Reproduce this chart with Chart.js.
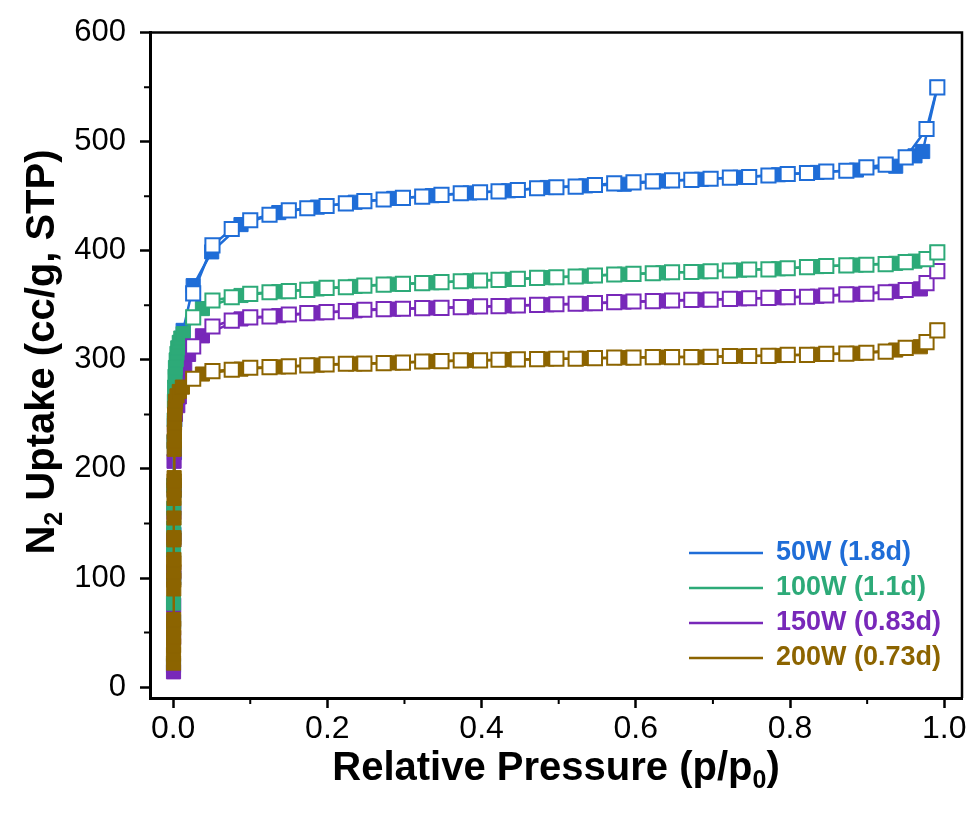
<!DOCTYPE html>
<html>
<head>
<meta charset="utf-8">
<script src="https://cdn.jsdelivr.net/npm/chart.js@4.4.1/dist/chart.umd.min.js"></script>
<style>
  html, body { margin: 0; padding: 0; background: #fff; }
  canvas { display: block; }
</style>
</head>
<body>
<canvas id="chart" width="974" height="813"></canvas>
<script>
// Data

const seriesNames  = ['50W (1.8d)', '100W (1.1d)', '150W (0.83d)', '200W (0.73d)'];
const seriesColors = ['#1f6dd7', '#2daa78', '#7828b9', '#8c6400'];

// axis ticks
const xTicks = [0, 0.2, 0.4, 0.6, 0.8, 1.0];
const xMinor = [0.1, 0.3, 0.5, 0.7, 0.9];
const yTicks = [0, 100, 200, 300, 400, 500, 600];
const yMinor = [50, 150, 250, 350, 450, 550];

// desorption branch (open squares) - shared relative pressures
const desP = [0.026, 0.051, 0.076, 0.1, 0.125, 0.15, 0.174, 0.199, 0.224, 0.248,
              0.273, 0.298, 0.323, 0.348, 0.373, 0.398, 0.422, 0.447, 0.472, 0.497,
              0.522, 0.547, 0.572, 0.597, 0.622, 0.647, 0.672, 0.697, 0.722, 0.747,
              0.772, 0.797, 0.822, 0.847, 0.873, 0.899, 0.924, 0.95, 0.977, 0.991];
const des50  = [361, 405, 420, 428, 433, 437, 439, 441, 443.5, 445.5,
                447, 448.5, 449.6, 451.2, 452.7, 453.6, 454.5, 455.7, 457.3, 458.2,
                458.8, 460.3, 461.8, 462.7, 463.6, 464.5, 465, 466, 467, 467.6,
                469, 470.4, 471.3, 472.5, 473.4, 476.5, 479, 485.6, 511.6, 549.8];
const des100 = [339, 354.4, 357.4, 360.5, 362, 363, 364.2, 366, 366.6, 368,
                369, 369.7, 370.3, 371.2, 372.1, 372.7, 373.3, 374.2, 375.1, 375.7,
                376.4, 377.3, 378.2, 378.8, 379.4, 380.3, 380.5, 381.2, 381.9, 382.8,
                383, 384, 385, 386, 386.6, 387.2, 387.8, 389.6, 392.4, 398.5];
const des150 = [312.3, 330.6, 336, 339, 339.7, 341.6, 342.8, 343.7, 344.6, 345.9,
                346.5, 346.8, 347.4, 347.7, 348.3, 349, 349.2, 349.8, 350.4, 351,
                351.4, 352, 352.9, 353.5, 353.8, 354.4, 355, 355.2, 355.9, 356.5,
                356.8, 357.5, 357.8, 359, 360, 360.6, 362, 364, 370.3, 381.3];
const des200 = [282.7, 289.7, 290.9, 292.8, 293.3, 294, 294.9, 295.8, 296.4, 296.6,
                297, 297.5, 298.5, 298.8, 299.5, 299.5, 300.1, 300.4, 300.6, 301,
                301, 301.6, 302, 302, 302.5, 302.5, 302.5, 302.7, 303.5, 303.5,
                303.7, 304.5, 304.6, 305.5, 305.7, 306.5, 307.5, 311, 316.2, 327];

// adsorption branch (filled squares)
const ads50P = [0.0005, 0.0006, 0.0008, 0.001, 0.0013, 0.0017, 0.0022, 0.003, 0.004, 0.006,
                0.009, 0.013, 0.026, 0.05, 0.088, 0.137, 0.187, 0.236, 0.286, 0.336,
                0.385, 0.435, 0.485, 0.535, 0.585, 0.635, 0.685, 0.735, 0.785, 0.835,
                0.886, 0.937, 0.962, 0.972, 0.991];
const ads50  = [20, 60, 100, 140, 180, 215, 245, 270, 290, 305,
                316, 327, 368, 399, 424, 435, 440, 444.5, 448, 450.5,
                453, 455, 458, 459.5, 461, 464, 465.5, 467.3, 469.7, 471.8,
                474, 477.5, 487, 491, 549.8];

const ads100P = [0.0005, 0.0006, 0.0007, 0.0008, 0.0009, 0.0012, 0.0014, 0.0017, 0.002, 0.0025,
                 0.003, 0.004, 0.005, 0.006, 0.008, 0.01, 0.013, 0.038, 0.088, 0.137,
                 0.187, 0.236, 0.286, 0.336, 0.385, 0.435, 0.485, 0.535, 0.585, 0.635,
                 0.685, 0.735, 0.785, 0.835, 0.886, 0.937, 0.962, 0.991];
const ads100  = [77, 126, 146, 164, 185, 225, 245, 262, 275, 285,
                 293, 300, 306, 311, 316, 320, 324, 347, 359, 362.5,
                 365, 367.3, 369.3, 370.7, 372.4, 373.7, 375.4, 376.8, 378.5, 379.8,
                 380.8, 382.3, 383.5, 385.5, 386.9, 388.5, 390.5, 398.5];

const ads150P = [0.0005, 0.0006, 0.0007, 0.0008, 0.0009, 0.001, 0.0011, 0.0012, 0.0014, 0.0017,
                 0.003, 0.006, 0.008, 0.01, 0.012, 0.015, 0.02, 0.038, 0.088, 0.137,
                 0.187, 0.236, 0.286, 0.336, 0.385, 0.435, 0.485, 0.535, 0.585, 0.635,
                 0.685, 0.735, 0.785, 0.835, 0.886, 0.937, 0.969, 0.991];
const ads150  = [14, 45, 75, 105, 135, 160, 185, 207, 225, 240,
                 250, 258, 266, 276, 286, 296, 305, 322, 337.5, 340.5,
                 343, 345, 346.5, 347.5, 348.5, 349.5, 350.5, 351.5, 353, 354,
                 355, 356, 357, 358.3, 360.2, 362.8, 365, 381.3];

const ads200P = [0.0005, 0.0005, 0.0006, 0.0006, 0.0007, 0.0007, 0.0008, 0.0008, 0.0009, 0.0009,
                 0.001, 0.001, 0.0011, 0.0011, 0.0012, 0.0012, 0.0013, 0.0013, 0.0014, 0.0015,
                 0.0016, 0.0018, 0.002, 0.0025, 0.003, 0.005, 0.008, 0.012, 0.038, 0.088,
                 0.137, 0.187, 0.236, 0.286, 0.336, 0.385, 0.435, 0.485, 0.535, 0.585,
                 0.635, 0.685, 0.735, 0.785, 0.835, 0.886, 0.937, 0.969, 0.991];
const ads200  = [22, 30, 38, 46, 54, 62, 90, 98, 106, 114,
                 117, 135, 137, 155, 173, 181, 189, 192, 218, 226,
                 234, 242, 250, 256, 262, 267, 271, 275, 287, 291.5,
                 293.5, 295.2, 296.3, 297.2, 298.6, 299.4, 300.2, 300.8, 301.3, 302,
                 302.5, 302.6, 303.5, 304, 305, 306, 309, 312, 327];

const desSets = [des50, des100, des150, des200];
const adsSets = [[ads50P, ads50], [ads100P, ads100], [ads150P, ads150], [ads200P, ads200]];
// draw order of filled branches: lower = on top (brown over green over purple over blue)
const adsOrder = [7, 5, 6, 4];

const FONT = '"Liberation Sans", Arial, Helvetica, sans-serif';

const toPoints = (xs, ys) => xs.map((x, i) => ({ x, y: ys[i] }));

// Datasets

const datasets = [];
seriesColors.forEach((c, i) => {
  datasets.push({
    label: seriesNames[i] + ' ads',
    data: toPoints(adsSets[i][0], adsSets[i][1]),
    borderColor: c,
    borderWidth: 2.5,
    pointStyle: 'rect',
    pointRadius: 10,
    pointBorderWidth: 1,
    pointBorderColor: c,
    pointBackgroundColor: c,
    order: adsOrder[i]
  });
  datasets.push({
    label: seriesNames[i],
    data: toPoints(desP, desSets[i]),
    borderColor: c,
    borderWidth: 2.5,
    pointStyle: 'rect',
    pointRadius: 10,
    pointBorderWidth: 2,
    pointBorderColor: c,
    pointBackgroundColor: '#fff',
    order: i
  });
});

// Plugins

// top + right frame and minor ticks
const framePlugin = {
  id: 'frame',
  afterDraw(chart) {
    const { ctx, chartArea: a, scales } = chart;
    ctx.save();
    ctx.strokeStyle = '#000';
    ctx.lineWidth = 2.5;
    ctx.beginPath();
    ctx.moveTo(a.left, a.top);
    ctx.lineTo(a.right, a.top);
    ctx.lineTo(a.right, a.bottom);
    ctx.stroke();

    ctx.lineWidth = 2;
    ctx.beginPath();
    xMinor.forEach(v => {
      const px = scales.x.getPixelForValue(v);
      ctx.moveTo(px, a.bottom);
      ctx.lineTo(px, a.bottom + 6);
    });
    yMinor.forEach(v => {
      const py = scales.y.getPixelForValue(v);
      ctx.moveTo(a.left, py);
      ctx.lineTo(a.left - 6, py);
    });
    ctx.stroke();
    ctx.restore();
  }
};

// text with subscripts, centred at (0,0) of current transform
function drawRich(ctx, parts, size) {
  const subSize = Math.round(size * 0.62);
  const fonts = parts.map(p => `bold ${p.sub ? subSize : size}px ${FONT}`);
  let total = 0;
  const widths = parts.map((p, i) => { ctx.font = fonts[i]; const w = ctx.measureText(p.t).width; total += w; return w; });
  let x = -total / 2;
  ctx.textBaseline = 'alphabetic';
  ctx.textAlign = 'left';
  parts.forEach((p, i) => {
    ctx.font = fonts[i];
    ctx.fillText(p.t, x, size * 0.36 + (p.sub ? size * 0.2 : 0));
    x += widths[i];
  });
}

const titlePlugin = {
  id: 'titles',
  afterDraw(chart) {
    const { ctx, chartArea: a } = chart;
    ctx.save();
    ctx.fillStyle = '#000';
    ctx.translate((a.left + a.right) / 2, 766);
    drawRich(ctx, [{ t: 'Relative Pressure (p/p' }, { t: '0', sub: true }, { t: ')' }], 40);
    ctx.restore();

    ctx.save();
    ctx.fillStyle = '#000';
    ctx.translate(40, 352);
    ctx.rotate(-Math.PI / 2);
    drawRich(ctx, [{ t: 'N' }, { t: '2', sub: true }, { t: ' Uptake (cc/g, STP)' }], 40);
    ctx.restore();
  }
};

const legendPlugin = {
  id: 'insideLegend',
  afterDraw(chart) {
    const { ctx, chartArea: a } = chart;
    ctx.save();
    ctx.font = `bold 27px ${FONT}`;
    ctx.textBaseline = 'middle';
    ctx.textAlign = 'left';
    seriesNames.forEach((name, i) => {
      const y = a.bottom - 145 + i * 35;
      ctx.strokeStyle = seriesColors[i];
      ctx.lineWidth = 2.5;
      ctx.beginPath();
      ctx.moveTo(a.right - 273, y);
      ctx.lineTo(a.right - 199, y);
      ctx.stroke();
      ctx.fillStyle = seriesColors[i];
      ctx.fillText(name, a.right - 186, y);
    });
    ctx.restore();
  }
};

// Chart

new Chart(document.getElementById('chart'), {
  type: 'line',
  data: { datasets },
  options: {
    responsive: false,
    animation: false,
    devicePixelRatio: 1,
    layout: { padding: { top: 32, right: 8, left: 0, bottom: 0 } },
    elements: { line: { tension: 0 } },
    plugins: { legend: { display: false }, tooltip: { enabled: false } },
    scales: {
      x: {
        type: 'linear',
        min: -0.03,
        max: 1.023,
        afterBuildTicks: s => { s.ticks = xTicks.map(v => ({ value: v })); },
        afterFit: s => { s.height = 115; },
        ticks: {
          color: '#000',
          font: { family: FONT, size: 32 },
          padding: 2,
          maxRotation: 0,
          autoSkip: false,
          callback: v => v.toFixed(1)
        },
        grid: { drawOnChartArea: false, tickLength: 10, tickWidth: 2.5, tickColor: '#000' },
        border: { color: '#000', width: 3 }
      },
      y: {
        type: 'linear',
        min: -10,
        max: 600,
        afterBuildTicks: s => { s.ticks = yTicks.map(v => ({ value: v })); },
        afterFit: s => { s.width = 150; },
        ticks: {
          color: '#000',
          font: { family: FONT, size: 31 },
          padding: 14,
          autoSkip: false,
          callback: v => String(v)
        },
        grid: { drawOnChartArea: false, tickLength: 10, tickWidth: 2.5, tickColor: '#000' },
        border: { color: '#000', width: 3 }
      }
    }
  },
  plugins: [framePlugin, titlePlugin, legendPlugin]
});
</script>
</body>
</html>
